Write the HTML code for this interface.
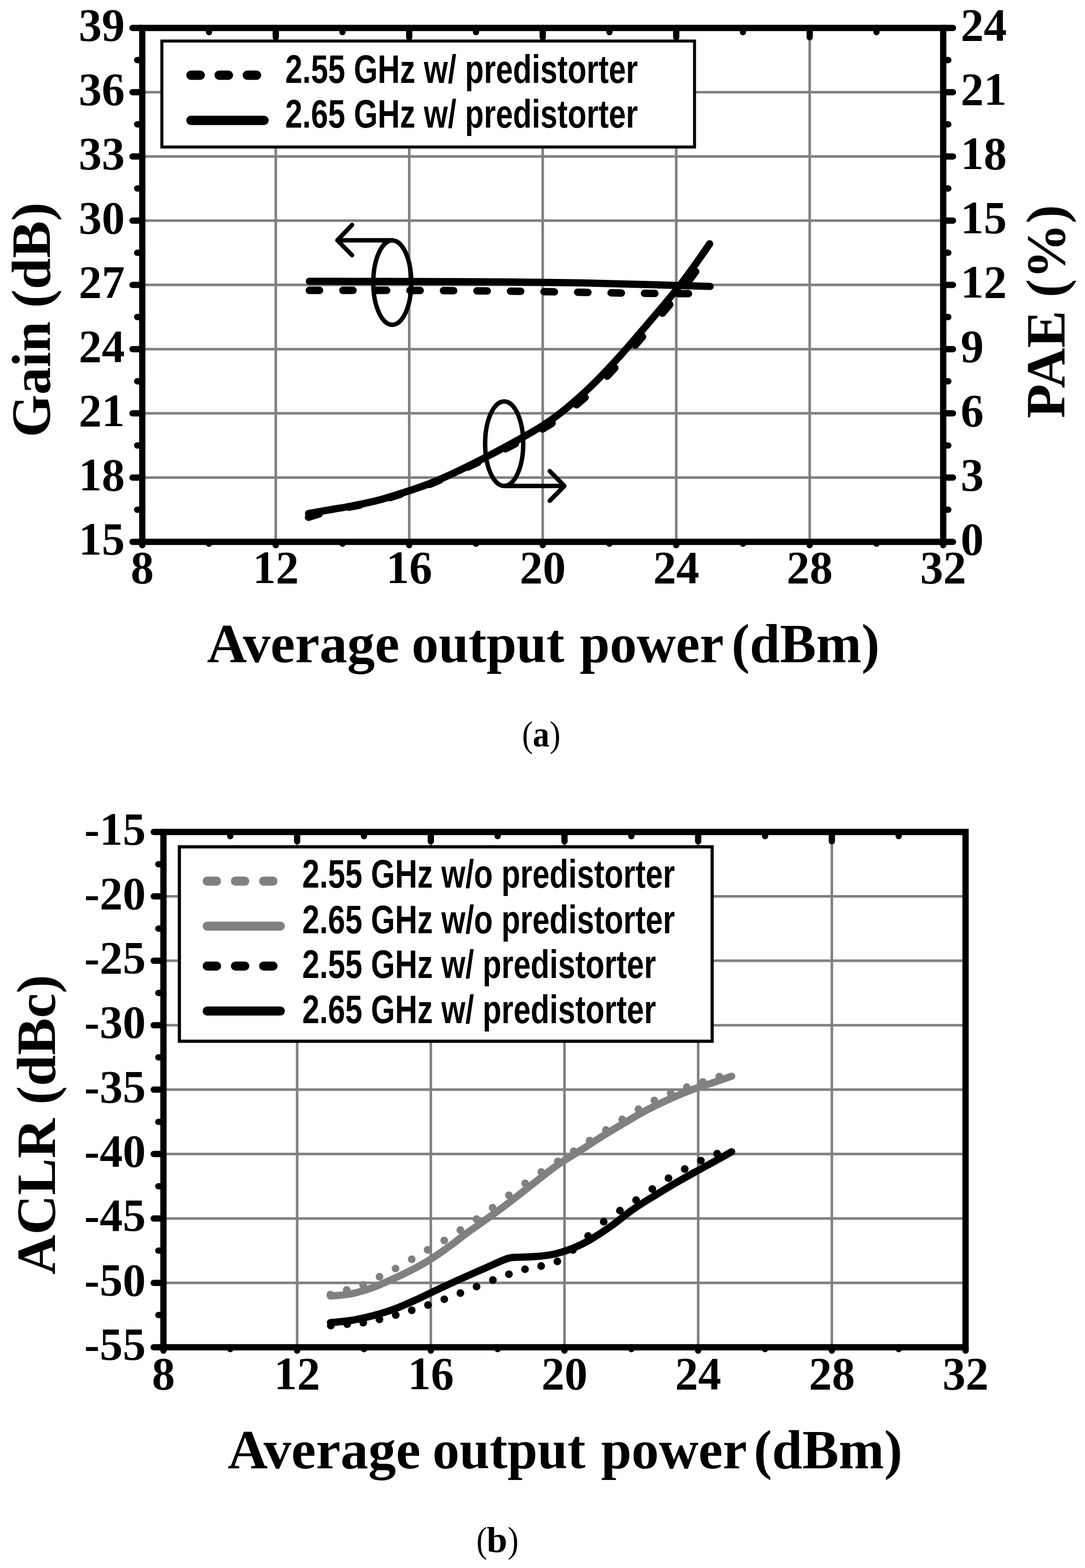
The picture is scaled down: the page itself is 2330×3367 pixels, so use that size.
<!DOCTYPE html>
<html><head><meta charset="utf-8"><title>Figure</title>
<style>html,body{margin:0;padding:0;background:#fff;}svg{display:block;}</style>
</head><body>
<svg width="2330" height="3367" viewBox="0 0 2330 3367">
<rect width="2330" height="3367" fill="#fff"/>
<line x1="592.2" y1="60.0" x2="592.2" y2="1163.5" stroke="#808080" stroke-width="5.5"/>
<line x1="878.8" y1="60.0" x2="878.8" y2="1163.5" stroke="#808080" stroke-width="5.5"/>
<line x1="1165.5" y1="60.0" x2="1165.5" y2="1163.5" stroke="#808080" stroke-width="5.5"/>
<line x1="1452.2" y1="60.0" x2="1452.2" y2="1163.5" stroke="#808080" stroke-width="5.5"/>
<line x1="1738.8" y1="60.0" x2="1738.8" y2="1163.5" stroke="#808080" stroke-width="5.5"/>
<line x1="305.5" y1="1025.6" x2="2025.5" y2="1025.6" stroke="#808080" stroke-width="5.5"/>
<line x1="305.5" y1="887.6" x2="2025.5" y2="887.6" stroke="#808080" stroke-width="5.5"/>
<line x1="305.5" y1="749.7" x2="2025.5" y2="749.7" stroke="#808080" stroke-width="5.5"/>
<line x1="305.5" y1="611.8" x2="2025.5" y2="611.8" stroke="#808080" stroke-width="5.5"/>
<line x1="305.5" y1="473.8" x2="2025.5" y2="473.8" stroke="#808080" stroke-width="5.5"/>
<line x1="305.5" y1="335.9" x2="2025.5" y2="335.9" stroke="#808080" stroke-width="5.5"/>
<line x1="305.5" y1="197.9" x2="2025.5" y2="197.9" stroke="#808080" stroke-width="5.5"/>
<rect x="347.6" y="88.1" width="1143.9" height="227.6" fill="#fff" stroke="#000" stroke-width="6.4"/>
<line x1="410" y1="161.5" x2="551" y2="161.5" stroke="#000" stroke-width="20" stroke-linecap="round" stroke-dasharray="20 40.5"/>
<line x1="410" y1="258.5" x2="567" y2="258.5" stroke="#000" stroke-width="20" stroke-linecap="round"/>
<text x="0" y="0" transform="translate(612.5,178.1) scale(0.783,1)" font-family="'Liberation Sans', Arial, sans-serif" font-weight="bold" font-size="84.5">2.55 GHz w/ predistorter</text>
<text x="0" y="0" transform="translate(612.5,274.4) scale(0.783,1)" font-family="'Liberation Sans', Arial, sans-serif" font-weight="bold" font-size="84.5">2.65 GHz w/ predistorter</text>
<path d="M664.3,604.0 C703.6,604.1 827.4,604.4 900.0,604.6 C972.6,604.8 1041.7,604.9 1100.0,605.4 C1158.3,605.9 1202.0,606.6 1250.0,607.5 C1298.0,608.4 1342.2,609.8 1388.0,611.0 C1433.8,612.2 1502.2,614.3 1525.0,615.0" fill="none" stroke="#000" stroke-width="15.5" stroke-linecap="round"/>
<path d="M664.3,623.5 C703.6,623.5 825.0,623.5 900.0,623.8 C975.0,624.1 1043.2,624.6 1114.0,625.5 C1184.8,626.4 1277.3,628.2 1325.0,629.0 C1372.7,629.8 1366.7,629.7 1400.0,630.0 C1433.3,630.3 1504.2,630.8 1525.0,631.0" fill="none" stroke="#000" stroke-width="16" stroke-linecap="round" stroke-dasharray="22 50"/>
<path d="M662.6,1110.7 C671.4,1108.1 699.8,1098.8 715.2,1095.0 C730.7,1091.2 739.0,1091.2 755.3,1088.0 C771.6,1084.8 792.4,1081.0 813.0,1075.5 C833.6,1070.0 860.0,1061.4 879.2,1055.1 C898.4,1048.8 910.4,1045.0 928.2,1037.8 C946.0,1030.6 966.4,1020.9 985.8,1011.9 C1005.2,1002.9 1025.2,993.4 1044.7,983.9 C1064.2,974.4 1081.9,965.8 1102.8,954.8 C1123.7,943.8 1150.6,930.1 1170.3,918.2 C1190.0,906.2 1202.7,897.5 1221.0,883.1 C1239.3,868.7 1260.6,850.4 1280.0,831.8 C1299.4,813.2 1318.3,792.4 1337.5,771.3 C1356.7,750.2 1374.9,728.5 1395.0,705.0 C1415.1,681.5 1440.5,651.8 1458.0,630.0 C1475.5,608.2 1490.0,589.3 1500.0,574.0 C1510.0,558.7 1515.0,544.0 1518.0,538.0" fill="none" stroke="#000" stroke-width="16" stroke-linecap="round" stroke-dasharray="24 66"/>
<path d="M662.6,1102.7 C671.4,1101.2 699.8,1096.2 715.2,1093.5 C730.7,1090.8 739.0,1089.8 755.3,1086.5 C771.6,1083.2 792.4,1079.5 813.0,1074.0 C833.6,1068.5 860.0,1059.9 879.2,1053.6 C898.4,1047.3 910.4,1043.5 928.2,1036.3 C946.0,1029.1 966.6,1019.5 985.8,1010.4 C1005.0,1001.3 1024.5,991.4 1043.5,981.6 C1062.5,971.8 1079.6,962.8 1100.0,951.5 C1120.4,940.2 1146.5,926.0 1165.7,913.7 C1184.9,901.4 1197.1,892.4 1215.0,877.7 C1232.9,863.1 1253.8,844.5 1273.0,825.8 C1292.2,807.1 1311.3,786.4 1330.5,765.3 C1349.7,744.2 1367.9,722.5 1388.0,699.0 C1408.1,675.5 1433.5,645.8 1451.0,624.0 C1468.5,602.2 1480.8,584.8 1493.0,568.0 C1505.2,551.2 1518.8,530.9 1524.0,523.5" fill="none" stroke="#000" stroke-width="15.5" stroke-linecap="round"/>
<g fill="none" stroke="#000" stroke-width="9.5" stroke-linecap="round" stroke-linejoin="round">
<ellipse cx="842.4" cy="606.8" rx="40.8" ry="90.6"/>
<path d="M842.4,516 H724.5 M756,483 L724.5,516 L756,548"/>
<ellipse cx="1082.7" cy="952.7" rx="40.9" ry="90.8"/>
<path d="M1082.7,1043.6 H1212 M1180.5,1011.5 L1212,1043.6 L1180.5,1075.3"/>
</g>
<g stroke="#000" stroke-linecap="round" fill="none">
<line x1="284.5" y1="1163.5" x2="305.5" y2="1163.5" stroke-width="13.5"/>
<line x1="284.5" y1="1025.6" x2="305.5" y2="1025.6" stroke-width="13.5"/>
<line x1="284.5" y1="887.6" x2="305.5" y2="887.6" stroke-width="13.5"/>
<line x1="284.5" y1="749.7" x2="305.5" y2="749.7" stroke-width="13.5"/>
<line x1="284.5" y1="611.8" x2="305.5" y2="611.8" stroke-width="13.5"/>
<line x1="284.5" y1="473.8" x2="305.5" y2="473.8" stroke-width="13.5"/>
<line x1="284.5" y1="335.9" x2="305.5" y2="335.9" stroke-width="13.5"/>
<line x1="284.5" y1="197.9" x2="305.5" y2="197.9" stroke-width="13.5"/>
<line x1="284.5" y1="60.0" x2="305.5" y2="60.0" stroke-width="13.5"/>
<line x1="294.5" y1="1094.5" x2="305.5" y2="1094.5" stroke-width="13.5"/>
<line x1="294.5" y1="956.6" x2="305.5" y2="956.6" stroke-width="13.5"/>
<line x1="294.5" y1="818.7" x2="305.5" y2="818.7" stroke-width="13.5"/>
<line x1="294.5" y1="680.7" x2="305.5" y2="680.7" stroke-width="13.5"/>
<line x1="294.5" y1="542.8" x2="305.5" y2="542.8" stroke-width="13.5"/>
<line x1="294.5" y1="404.8" x2="305.5" y2="404.8" stroke-width="13.5"/>
<line x1="294.5" y1="266.9" x2="305.5" y2="266.9" stroke-width="13.5"/>
<line x1="294.5" y1="129.0" x2="305.5" y2="129.0" stroke-width="13.5"/>
<line x1="2025.5" y1="1163.5" x2="2046.5" y2="1163.5" stroke-width="13.5"/>
<line x1="2025.5" y1="1025.6" x2="2046.5" y2="1025.6" stroke-width="13.5"/>
<line x1="2025.5" y1="887.6" x2="2046.5" y2="887.6" stroke-width="13.5"/>
<line x1="2025.5" y1="749.7" x2="2046.5" y2="749.7" stroke-width="13.5"/>
<line x1="2025.5" y1="611.8" x2="2046.5" y2="611.8" stroke-width="13.5"/>
<line x1="2025.5" y1="473.8" x2="2046.5" y2="473.8" stroke-width="13.5"/>
<line x1="2025.5" y1="335.9" x2="2046.5" y2="335.9" stroke-width="13.5"/>
<line x1="2025.5" y1="197.9" x2="2046.5" y2="197.9" stroke-width="13.5"/>
<line x1="2025.5" y1="60.0" x2="2046.5" y2="60.0" stroke-width="13.5"/>
<line x1="2025.5" y1="1094.5" x2="2036.5" y2="1094.5" stroke-width="13.5"/>
<line x1="2025.5" y1="956.6" x2="2036.5" y2="956.6" stroke-width="13.5"/>
<line x1="2025.5" y1="818.7" x2="2036.5" y2="818.7" stroke-width="13.5"/>
<line x1="2025.5" y1="680.7" x2="2036.5" y2="680.7" stroke-width="13.5"/>
<line x1="2025.5" y1="542.8" x2="2036.5" y2="542.8" stroke-width="13.5"/>
<line x1="2025.5" y1="404.8" x2="2036.5" y2="404.8" stroke-width="13.5"/>
<line x1="2025.5" y1="266.9" x2="2036.5" y2="266.9" stroke-width="13.5"/>
<line x1="2025.5" y1="129.0" x2="2036.5" y2="129.0" stroke-width="13.5"/>
<line x1="592.2" y1="60.0" x2="592.2" y2="80.0" stroke-width="13.5"/>
<line x1="878.8" y1="60.0" x2="878.8" y2="80.0" stroke-width="13.5"/>
<line x1="1165.5" y1="60.0" x2="1165.5" y2="80.0" stroke-width="13.5"/>
<line x1="1452.2" y1="60.0" x2="1452.2" y2="80.0" stroke-width="13.5"/>
<line x1="1738.8" y1="60.0" x2="1738.8" y2="80.0" stroke-width="13.5"/>
<line x1="448.8" y1="60.0" x2="448.8" y2="69.0" stroke-width="13.5"/>
<line x1="735.5" y1="60.0" x2="735.5" y2="69.0" stroke-width="13.5"/>
<line x1="1022.2" y1="60.0" x2="1022.2" y2="69.0" stroke-width="13.5"/>
<line x1="1308.8" y1="60.0" x2="1308.8" y2="69.0" stroke-width="13.5"/>
<line x1="1595.5" y1="60.0" x2="1595.5" y2="69.0" stroke-width="13.5"/>
<line x1="1882.2" y1="60.0" x2="1882.2" y2="69.0" stroke-width="13.5"/>
<line x1="305.5" y1="1163.5" x2="305.5" y2="1170.8" stroke-width="13.5"/>
<line x1="592.2" y1="1163.5" x2="592.2" y2="1170.8" stroke-width="13.5"/>
<line x1="878.8" y1="1163.5" x2="878.8" y2="1170.8" stroke-width="13.5"/>
<line x1="1165.5" y1="1163.5" x2="1165.5" y2="1170.8" stroke-width="13.5"/>
<line x1="1452.2" y1="1163.5" x2="1452.2" y2="1170.8" stroke-width="13.5"/>
<line x1="1738.8" y1="1163.5" x2="1738.8" y2="1170.8" stroke-width="13.5"/>
<line x1="2025.5" y1="1163.5" x2="2025.5" y2="1170.8" stroke-width="13.5"/>
<line x1="448.8" y1="1163.5" x2="448.8" y2="1167.5" stroke-width="13.5"/>
<line x1="735.5" y1="1163.5" x2="735.5" y2="1167.5" stroke-width="13.5"/>
<line x1="1022.2" y1="1163.5" x2="1022.2" y2="1167.5" stroke-width="13.5"/>
<line x1="1308.8" y1="1163.5" x2="1308.8" y2="1167.5" stroke-width="13.5"/>
<line x1="1595.5" y1="1163.5" x2="1595.5" y2="1167.5" stroke-width="13.5"/>
<line x1="1882.2" y1="1163.5" x2="1882.2" y2="1167.5" stroke-width="13.5"/>
</g>
<rect x="305.5" y="60.0" width="1720.0" height="1103.5" fill="none" stroke="#000" stroke-width="13.5"/>
<g font-family="'Liberation Serif', 'Times New Roman', serif" font-weight="bold" font-size="99">
<text x="268" y="1190.5" text-anchor="end">15</text>
<text x="268" y="1052.6" text-anchor="end">18</text>
<text x="268" y="914.6" text-anchor="end">21</text>
<text x="268" y="776.7" text-anchor="end">24</text>
<text x="268" y="638.8" text-anchor="end">27</text>
<text x="268" y="500.8" text-anchor="end">30</text>
<text x="268" y="362.9" text-anchor="end">33</text>
<text x="268" y="224.9" text-anchor="end">36</text>
<text x="268" y="87.0" text-anchor="end">39</text>
<text x="2063" y="1190.5">0</text>
<text x="2063" y="1052.6">3</text>
<text x="2063" y="914.6">6</text>
<text x="2063" y="776.7">9</text>
<text x="2063" y="638.8">12</text>
<text x="2063" y="500.8">15</text>
<text x="2063" y="362.9">18</text>
<text x="2063" y="224.9">21</text>
<text x="2063" y="87.0">24</text>
<text x="305.5" y="1252" text-anchor="middle">8</text>
<text x="592.2" y="1252" text-anchor="middle">12</text>
<text x="878.8" y="1252" text-anchor="middle">16</text>
<text x="1165.5" y="1252" text-anchor="middle">20</text>
<text x="1452.2" y="1252" text-anchor="middle">24</text>
<text x="1738.8" y="1252" text-anchor="middle">28</text>
<text x="2025.5" y="1252" text-anchor="middle">32</text>
</g>
<text x="444.5" y="1421.5" font-family="'Liberation Serif', 'Times New Roman', serif" font-weight="bold" font-size="119" textLength="413.1" lengthAdjust="spacingAndGlyphs">Average</text>
<text x="884.1" y="1421.5" font-family="'Liberation Serif', 'Times New Roman', serif" font-weight="bold" font-size="119" textLength="328.0" lengthAdjust="spacingAndGlyphs">output</text>
<text x="1245.1" y="1421.5" font-family="'Liberation Serif', 'Times New Roman', serif" font-weight="bold" font-size="119" textLength="309.1" lengthAdjust="spacingAndGlyphs">power</text>
<text x="1571.1" y="1421.5" font-family="'Liberation Serif', 'Times New Roman', serif" font-weight="bold" font-size="119" textLength="317.7" lengthAdjust="spacingAndGlyphs">(dBm)</text>
<text transform="translate(106.6,939.1) rotate(-90)" font-family="'Liberation Serif', 'Times New Roman', serif" font-weight="bold" font-size="119" textLength="248.8" lengthAdjust="spacingAndGlyphs">Gain</text>
<text transform="translate(106.6,661.2) rotate(-90)" font-family="'Liberation Serif', 'Times New Roman', serif" font-weight="bold" font-size="119" textLength="226.8" lengthAdjust="spacingAndGlyphs">(dB)</text>
<text transform="translate(2285.6,898.0) rotate(-90)" font-family="'Liberation Serif', 'Times New Roman', serif" font-weight="bold" font-size="119" textLength="231.2" lengthAdjust="spacingAndGlyphs">PAE</text>
<text transform="translate(2285.6,638.7) rotate(-90)" font-family="'Liberation Serif', 'Times New Roman', serif" font-weight="bold" font-size="119" textLength="198.7" lengthAdjust="spacingAndGlyphs">(%)</text>
<text x="1121.1" y="1602.8" font-family="'Liberation Serif', 'Times New Roman', serif" font-weight="normal" font-size="78" textLength="23.5" lengthAdjust="spacingAndGlyphs">(</text>
<text x="1144.0" y="1602.8" font-family="'Liberation Serif', 'Times New Roman', serif" font-weight="bold" font-size="78" textLength="36.0" lengthAdjust="spacingAndGlyphs">a</text>
<text x="1180.3" y="1602.8" font-family="'Liberation Serif', 'Times New Roman', serif" font-weight="normal" font-size="78" textLength="23.5" lengthAdjust="spacingAndGlyphs">)</text>
<line x1="638.1" y1="1786.5" x2="638.1" y2="2893.0" stroke="#808080" stroke-width="5.5"/>
<line x1="925.2" y1="1786.5" x2="925.2" y2="2893.0" stroke="#808080" stroke-width="5.5"/>
<line x1="1212.2" y1="1786.5" x2="1212.2" y2="2893.0" stroke="#808080" stroke-width="5.5"/>
<line x1="1499.3" y1="1786.5" x2="1499.3" y2="2893.0" stroke="#808080" stroke-width="5.5"/>
<line x1="1786.4" y1="1786.5" x2="1786.4" y2="2893.0" stroke="#808080" stroke-width="5.5"/>
<line x1="351.0" y1="1924.8" x2="2073.5" y2="1924.8" stroke="#808080" stroke-width="5.5"/>
<line x1="351.0" y1="2063.1" x2="2073.5" y2="2063.1" stroke="#808080" stroke-width="5.5"/>
<line x1="351.0" y1="2201.4" x2="2073.5" y2="2201.4" stroke="#808080" stroke-width="5.5"/>
<line x1="351.0" y1="2339.8" x2="2073.5" y2="2339.8" stroke="#808080" stroke-width="5.5"/>
<line x1="351.0" y1="2478.1" x2="2073.5" y2="2478.1" stroke="#808080" stroke-width="5.5"/>
<line x1="351.0" y1="2616.4" x2="2073.5" y2="2616.4" stroke="#808080" stroke-width="5.5"/>
<line x1="351.0" y1="2754.7" x2="2073.5" y2="2754.7" stroke="#808080" stroke-width="5.5"/>
<rect x="385.2" y="1818.4" width="1144.1" height="417.5" fill="#fff" stroke="#000" stroke-width="6.8"/>
<line x1="445" y1="1892" x2="587" y2="1892" stroke="#808080" stroke-width="19.5" stroke-linecap="round" stroke-dasharray="20 40.6"/>
<line x1="445" y1="1988.7" x2="602" y2="1988.7" stroke="#808080" stroke-width="19.5" stroke-linecap="round"/>
<line x1="445" y1="2074.4" x2="587" y2="2074.4" stroke="#000" stroke-width="19.5" stroke-linecap="round" stroke-dasharray="20 40.6"/>
<line x1="445" y1="2171" x2="602" y2="2171" stroke="#000" stroke-width="19.5" stroke-linecap="round"/>
<text x="0" y="0" transform="translate(649,1906.1) scale(0.7855,1)" font-family="'Liberation Sans', Arial, sans-serif" font-weight="bold" font-size="84.5">2.55 GHz w/o predistorter</text>
<text x="0" y="0" transform="translate(649,2003.6) scale(0.7855,1)" font-family="'Liberation Sans', Arial, sans-serif" font-weight="bold" font-size="84.5">2.65 GHz w/o predistorter</text>
<text x="0" y="0" transform="translate(649,2100.3) scale(0.7855,1)" font-family="'Liberation Sans', Arial, sans-serif" font-weight="bold" font-size="84.5">2.55 GHz w/ predistorter</text>
<text x="0" y="0" transform="translate(649,2197.1) scale(0.7855,1)" font-family="'Liberation Sans', Arial, sans-serif" font-weight="bold" font-size="84.5">2.65 GHz w/ predistorter</text>
<g fill="#808080"><circle cx="709.5" cy="2780" r="8.3"/><circle cx="744.5" cy="2770" r="8.3"/><circle cx="779.8" cy="2759" r="8.3"/><circle cx="815" cy="2741.6" r="8.3"/><circle cx="849.4" cy="2724" r="8.3"/><circle cx="884.2" cy="2704.1" r="8.3"/><circle cx="918.3" cy="2683.9" r="8.3"/><circle cx="954" cy="2663.7" r="8.3"/><circle cx="988.6" cy="2641.3" r="8.3"/><circle cx="1023.3" cy="2617.8" r="8.3"/><circle cx="1057.9" cy="2593.4" r="8.3"/><circle cx="1092.9" cy="2566.7" r="8.3"/><circle cx="1127.7" cy="2541.1" r="8.3"/><circle cx="1162.5" cy="2516.5" r="8.3"/><circle cx="1197.8" cy="2494" r="8.3"/><circle cx="1232" cy="2472" r="8.3"/><circle cx="1266.2" cy="2449.2" r="8.3"/><circle cx="1301.2" cy="2426.4" r="8.3"/><circle cx="1336.2" cy="2403.6" r="8.3"/><circle cx="1371" cy="2381.8" r="8.3"/><circle cx="1405.2" cy="2363.1" r="8.3"/><circle cx="1440.2" cy="2347.6" r="8.3"/><circle cx="1474.9" cy="2334.6" r="8.3"/><circle cx="1509.4" cy="2323.2" r="8.3"/><circle cx="1544.5" cy="2311.8" r="8.3"/></g>
<path d="M709.5,2783.0 C716.7,2782.2 737.6,2781.5 752.7,2778.5 C767.8,2775.5 785.5,2770.1 800.0,2765.0 C814.5,2759.9 828.0,2753.3 840.0,2748.0 C852.0,2742.7 861.4,2738.2 872.0,2733.0 C882.6,2727.8 893.3,2722.5 903.9,2716.5 C914.5,2710.5 925.1,2704.0 935.8,2697.0 C946.4,2690.0 957.1,2682.1 967.8,2674.3 C978.4,2666.5 988.1,2658.6 999.7,2650.0 C1011.3,2641.4 1025.0,2632.1 1037.6,2623.0 C1050.2,2613.9 1062.7,2605.0 1075.2,2595.7 C1087.7,2586.4 1100.5,2576.5 1112.8,2567.0 C1125.1,2557.5 1134.7,2549.7 1148.9,2538.7 C1163.1,2527.7 1181.5,2512.6 1197.8,2501.2 C1214.1,2489.8 1230.3,2480.8 1246.6,2470.3 C1262.9,2459.9 1279.2,2448.7 1295.5,2438.5 C1311.8,2428.3 1328.8,2418.3 1344.4,2409.2 C1360.0,2400.1 1373.3,2391.9 1388.9,2383.7 C1404.5,2375.5 1421.5,2367.4 1437.8,2360.1 C1454.1,2352.8 1470.3,2345.8 1486.6,2339.7 C1502.9,2333.6 1521.4,2328.2 1535.5,2323.4 C1549.6,2318.6 1565.3,2313.1 1571.3,2311.0" fill="none" stroke="#808080" stroke-width="15.5" stroke-linecap="round"/>
<g fill="#000"><circle cx="710.4" cy="2846.5" r="8.3"/><circle cx="745.6" cy="2843.4" r="8.3"/><circle cx="780" cy="2840.3" r="8.3"/><circle cx="814.8" cy="2833.2" r="8.3"/><circle cx="849.8" cy="2823.8" r="8.3"/><circle cx="884.2" cy="2813.6" r="8.3"/><circle cx="919" cy="2802.3" r="8.3"/><circle cx="954.1" cy="2790" r="8.3"/><circle cx="988.6" cy="2776.7" r="8.3"/><circle cx="1023.4" cy="2762.7" r="8.3"/><circle cx="1058.4" cy="2748.6" r="8.3"/><circle cx="1092.8" cy="2736.2" r="8.3"/><circle cx="1127.4" cy="2725.5" r="8.3"/><circle cx="1162.1" cy="2718.6" r="8.3"/><circle cx="1196.9" cy="2708.6" r="8.3"/><circle cx="1230.4" cy="2684.2" r="8.3"/><circle cx="1262.9" cy="2654" r="8.3"/><circle cx="1296.5" cy="2623.4" r="8.3"/><circle cx="1331.3" cy="2599.5" r="8.3"/><circle cx="1366" cy="2577" r="8.3"/><circle cx="1400.8" cy="2553.2" r="8.3"/><circle cx="1435.6" cy="2530" r="8.3"/><circle cx="1470.4" cy="2510.3" r="8.3"/><circle cx="1505.1" cy="2492.2" r="8.3"/><circle cx="1539.9" cy="2477.4" r="8.3"/></g>
<path d="M709.5,2840.0 C716.7,2839.2 737.7,2837.9 752.7,2835.5 C767.7,2833.1 784.0,2829.6 799.6,2825.5 C815.2,2821.4 830.9,2816.8 846.6,2811.0 C862.3,2805.2 878.0,2798.0 893.6,2791.0 C909.2,2784.0 924.5,2776.2 940.0,2769.0 C955.5,2761.8 969.3,2755.2 986.4,2747.5 C1003.5,2739.8 1025.6,2730.2 1042.8,2722.7 C1060.0,2715.2 1077.3,2706.3 1089.8,2702.5 C1102.3,2698.7 1107.0,2700.4 1118.0,2699.6 C1129.0,2698.8 1143.1,2699.0 1155.6,2697.8 C1168.1,2696.6 1180.8,2695.1 1193.2,2692.2 C1205.6,2689.3 1217.8,2685.4 1230.0,2680.5 C1242.2,2675.6 1252.6,2670.7 1266.4,2662.7 C1280.2,2654.7 1297.2,2643.4 1312.7,2632.5 C1328.2,2621.6 1343.6,2608.0 1359.1,2597.2 C1374.6,2586.4 1390.0,2577.2 1405.5,2567.6 C1421.0,2558.0 1436.3,2548.8 1451.8,2539.8 C1467.2,2530.8 1482.7,2522.3 1498.2,2513.7 C1513.7,2505.1 1532.4,2495.1 1544.6,2488.3 C1556.8,2481.6 1566.8,2475.7 1571.2,2473.2" fill="none" stroke="#000" stroke-width="15.5" stroke-linecap="round"/>
<g stroke="#000" stroke-linecap="round" fill="none">
<line x1="330.0" y1="2893.0" x2="351.0" y2="2893.0" stroke-width="13.5"/>
<line x1="330.0" y1="2754.7" x2="351.0" y2="2754.7" stroke-width="13.5"/>
<line x1="330.0" y1="2616.4" x2="351.0" y2="2616.4" stroke-width="13.5"/>
<line x1="330.0" y1="2478.1" x2="351.0" y2="2478.1" stroke-width="13.5"/>
<line x1="330.0" y1="2339.8" x2="351.0" y2="2339.8" stroke-width="13.5"/>
<line x1="330.0" y1="2201.4" x2="351.0" y2="2201.4" stroke-width="13.5"/>
<line x1="330.0" y1="2063.1" x2="351.0" y2="2063.1" stroke-width="13.5"/>
<line x1="330.0" y1="1924.8" x2="351.0" y2="1924.8" stroke-width="13.5"/>
<line x1="330.0" y1="1786.5" x2="351.0" y2="1786.5" stroke-width="13.5"/>
<line x1="340.0" y1="2823.8" x2="351.0" y2="2823.8" stroke-width="13.5"/>
<line x1="340.0" y1="2685.5" x2="351.0" y2="2685.5" stroke-width="13.5"/>
<line x1="340.0" y1="2547.2" x2="351.0" y2="2547.2" stroke-width="13.5"/>
<line x1="340.0" y1="2408.9" x2="351.0" y2="2408.9" stroke-width="13.5"/>
<line x1="340.0" y1="2270.6" x2="351.0" y2="2270.6" stroke-width="13.5"/>
<line x1="340.0" y1="2132.3" x2="351.0" y2="2132.3" stroke-width="13.5"/>
<line x1="340.0" y1="1994.0" x2="351.0" y2="1994.0" stroke-width="13.5"/>
<line x1="340.0" y1="1855.7" x2="351.0" y2="1855.7" stroke-width="13.5"/>
<line x1="638.1" y1="1786.5" x2="638.1" y2="1806.5" stroke-width="13.5"/>
<line x1="925.2" y1="1786.5" x2="925.2" y2="1806.5" stroke-width="13.5"/>
<line x1="1212.2" y1="1786.5" x2="1212.2" y2="1806.5" stroke-width="13.5"/>
<line x1="1499.3" y1="1786.5" x2="1499.3" y2="1806.5" stroke-width="13.5"/>
<line x1="1786.4" y1="1786.5" x2="1786.4" y2="1806.5" stroke-width="13.5"/>
<line x1="494.5" y1="1786.5" x2="494.5" y2="1795.5" stroke-width="13.5"/>
<line x1="781.6" y1="1786.5" x2="781.6" y2="1795.5" stroke-width="13.5"/>
<line x1="1068.7" y1="1786.5" x2="1068.7" y2="1795.5" stroke-width="13.5"/>
<line x1="1355.8" y1="1786.5" x2="1355.8" y2="1795.5" stroke-width="13.5"/>
<line x1="1642.9" y1="1786.5" x2="1642.9" y2="1795.5" stroke-width="13.5"/>
<line x1="1930.0" y1="1786.5" x2="1930.0" y2="1795.5" stroke-width="13.5"/>
<line x1="351.0" y1="2893.0" x2="351.0" y2="2900.3" stroke-width="13.5"/>
<line x1="638.1" y1="2893.0" x2="638.1" y2="2900.3" stroke-width="13.5"/>
<line x1="925.2" y1="2893.0" x2="925.2" y2="2900.3" stroke-width="13.5"/>
<line x1="1212.2" y1="2893.0" x2="1212.2" y2="2900.3" stroke-width="13.5"/>
<line x1="1499.3" y1="2893.0" x2="1499.3" y2="2900.3" stroke-width="13.5"/>
<line x1="1786.4" y1="2893.0" x2="1786.4" y2="2900.3" stroke-width="13.5"/>
<line x1="2073.5" y1="2893.0" x2="2073.5" y2="2900.3" stroke-width="13.5"/>
<line x1="494.5" y1="2893.0" x2="494.5" y2="2897.0" stroke-width="13.5"/>
<line x1="781.6" y1="2893.0" x2="781.6" y2="2897.0" stroke-width="13.5"/>
<line x1="1068.7" y1="2893.0" x2="1068.7" y2="2897.0" stroke-width="13.5"/>
<line x1="1355.8" y1="2893.0" x2="1355.8" y2="2897.0" stroke-width="13.5"/>
<line x1="1642.9" y1="2893.0" x2="1642.9" y2="2897.0" stroke-width="13.5"/>
<line x1="1930.0" y1="2893.0" x2="1930.0" y2="2897.0" stroke-width="13.5"/>
</g>
<rect x="351.0" y="1786.5" width="1722.5" height="1106.5" fill="none" stroke="#000" stroke-width="13.5"/>
<g font-family="'Liberation Serif', 'Times New Roman', serif" font-weight="bold" font-size="99">
<text x="313" y="2920.0" text-anchor="end">-55</text>
<text x="313" y="2781.7" text-anchor="end">-50</text>
<text x="313" y="2643.4" text-anchor="end">-45</text>
<text x="313" y="2505.1" text-anchor="end">-40</text>
<text x="313" y="2366.8" text-anchor="end">-35</text>
<text x="313" y="2228.4" text-anchor="end">-30</text>
<text x="313" y="2090.1" text-anchor="end">-25</text>
<text x="313" y="1951.8" text-anchor="end">-20</text>
<text x="313" y="1813.5" text-anchor="end">-15</text>
<text x="351.0" y="2983" text-anchor="middle">8</text>
<text x="638.1" y="2983" text-anchor="middle">12</text>
<text x="925.2" y="2983" text-anchor="middle">16</text>
<text x="1212.2" y="2983" text-anchor="middle">20</text>
<text x="1499.3" y="2983" text-anchor="middle">24</text>
<text x="1786.4" y="2983" text-anchor="middle">28</text>
<text x="2073.5" y="2983" text-anchor="middle">32</text>
</g>
<text x="489.0" y="3152.8" font-family="'Liberation Serif', 'Times New Roman', serif" font-weight="bold" font-size="119" textLength="414.0" lengthAdjust="spacingAndGlyphs">Average</text>
<text x="928.8" y="3152.8" font-family="'Liberation Serif', 'Times New Roman', serif" font-weight="bold" font-size="119" textLength="328.5" lengthAdjust="spacingAndGlyphs">output</text>
<text x="1290.7" y="3152.8" font-family="'Liberation Serif', 'Times New Roman', serif" font-weight="bold" font-size="119" textLength="313.5" lengthAdjust="spacingAndGlyphs">power</text>
<text x="1618.7" y="3152.8" font-family="'Liberation Serif', 'Times New Roman', serif" font-weight="bold" font-size="119" textLength="319.0" lengthAdjust="spacingAndGlyphs">(dBm)</text>
<text transform="translate(117.7,2737.0) rotate(-90)" font-family="'Liberation Serif', 'Times New Roman', serif" font-weight="bold" font-size="119" textLength="335.2" lengthAdjust="spacingAndGlyphs">ACLR</text>
<text transform="translate(117.7,2372.0) rotate(-90)" font-family="'Liberation Serif', 'Times New Roman', serif" font-weight="bold" font-size="119" textLength="278.9" lengthAdjust="spacingAndGlyphs">(dBc)</text>
<text x="1023.1" y="3332.7" font-family="'Liberation Serif', 'Times New Roman', serif" font-weight="normal" font-size="78" textLength="23.2" lengthAdjust="spacingAndGlyphs">(</text>
<text x="1045.0" y="3332.7" font-family="'Liberation Serif', 'Times New Roman', serif" font-weight="bold" font-size="78" textLength="44.5" lengthAdjust="spacingAndGlyphs">b</text>
<text x="1090.3" y="3332.7" font-family="'Liberation Serif', 'Times New Roman', serif" font-weight="normal" font-size="78" textLength="23.4" lengthAdjust="spacingAndGlyphs">)</text>
</svg>
</body></html>
